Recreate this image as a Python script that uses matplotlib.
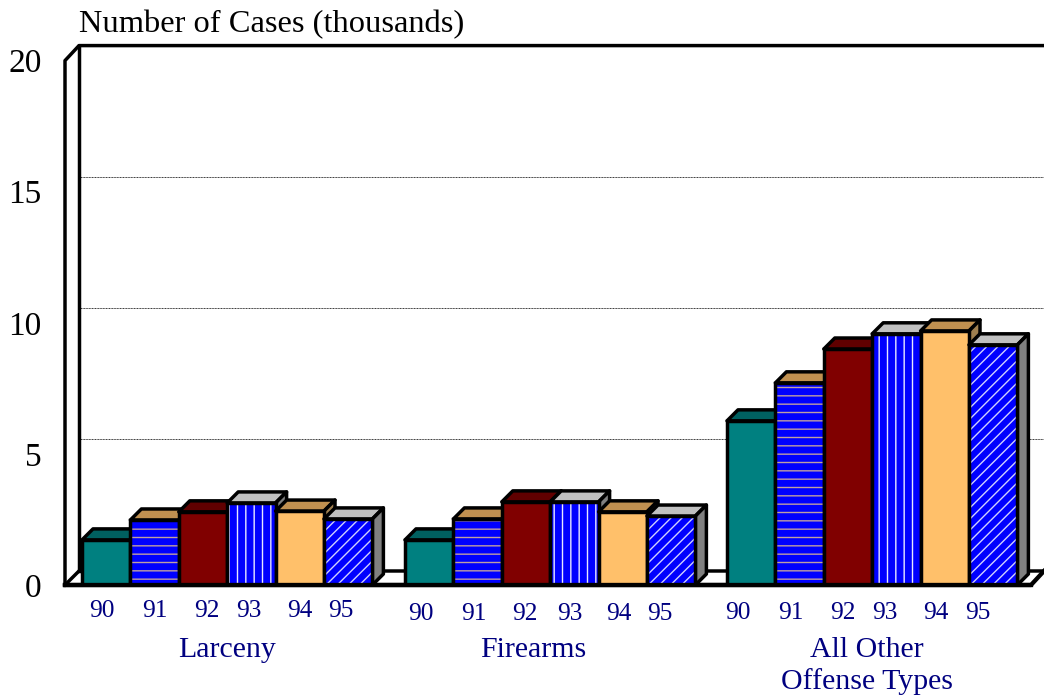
import matplotlib
matplotlib.use('Agg')
import matplotlib.pyplot as plt
from matplotlib.patches import Polygon

plt.rcParams['font.family'] = ['Liberation Serif', 'DejaVu Serif']
plt.rcParams['hatch.linewidth'] = 1.0

groups = ['Larceny', 'Firearms', 'All Other\nOffense Types']
years = ['90', '91', '92', '93', '94', '95']
larceny = [1.72, 2.48, 2.79, 3.13, 2.82, 2.52]
firearms = [1.72, 2.52, 3.17, 3.17, 2.79, 2.63]
other = [6.26, 7.71, 9.00, 9.58, 9.69, 9.16]
series = [larceny, firearms, other]

# colours per year: front, top, side, hatch, hatch colour
front_cols = ['#008080', '#0000ff', '#800000', '#0000ff', '#ffc06a', '#0000ff']
top_cols = ['#006060', '#c09050', '#600000', '#c0c0c0', '#c09050', '#c0c0c0']
side_cols = ['#006060', '#a08050', '#600000', '#808080', '#a08050', '#808080']
hatches = [None, '--', None, '||', None, '///']
hatch_cols = [None, '#c0a0a0', None, '#e8e8ff', None, '#d0d0ff']

# layout, in pixels of the 1044x698 picture
Y_UNIT = 26.2
group_left = [82, 405, 727]
bar_w = 48.4
dx = 11
dy = 11 / Y_UNIT
wall_dx = 14
floor_dy = 14 / Y_UNIT
wall_dy = 15 / Y_UNIT
year_x = [[102, 155, 207, 249, 300, 341],
          [421, 474, 525, 570, 619, 660],
          [738, 791, 843, 885, 936, 978]]
year_y = [-1.0, -1.12, -1.06]
group_x = [227, 533, 867]
group_y = [-1.98, -1.98, -1.98]

fig = plt.figure(figsize=(10.44, 6.98), dpi=100)
ax = fig.add_axes([65 / 1044, (698 - 585) / 698, (1044 - 65) / 1044, (585 - 60.6) / 698])
ax.set_xlim(65, 1044)
ax.set_ylim(0, 20)
ax.set_xticks([])
ax.set_yticks([0, 5, 10, 15, 20])
ax.tick_params(axis='y', length=0, pad=17, labelsize=24)
for s in ax.spines.values():
    s.set_visible(False)

# back wall, floor and gridlines
lw = 2.5
back_x = 65 + wall_dx
for v in [5, 10, 15]:
    ax.plot([back_x, 1044], [v + wall_dy, v + wall_dy], color='#303030', lw=0.7, ls=(0, (1, 0.6)), zorder=1)
ax.plot([65, 65, back_x, 1044], [0, 20, 20 + wall_dy, 20 + wall_dy], color='black', lw=lw, clip_on=False, zorder=2)
ax.plot([back_x, back_x], [floor_dy, 20 + wall_dy], color='black', lw=lw, clip_on=False, zorder=2)
ax.plot([65, back_x, 1044], [0, floor_dy, floor_dy], color='black', lw=lw, clip_on=False, zorder=2)
ax.plot([65, 1031, 1044], [0, 0, floor_dy], color='black', lw=lw + 0.6, clip_on=False, zorder=2)

z = 3
for left, vals in zip(group_left, series):
    for i, v in enumerate(vals):
        x0 = left + i * bar_w
        x1 = x0 + bar_w
        ax.add_patch(Polygon([(x0, v), (x0 + dx, v + dy), (x1 + dx, v + dy), (x1, v)],
                             facecolor=top_cols[i], edgecolor='black', lw=lw, joinstyle='round', zorder=z))
        ax.add_patch(Polygon([(x1, 0), (x1 + dx, dy), (x1 + dx, v + dy), (x1, v)],
                             facecolor=side_cols[i], edgecolor='black', lw=lw, joinstyle='round', zorder=z))
        if hatches[i]:
            ax.bar(x0, v, width=bar_w, align='edge', facecolor=front_cols[i],
                   edgecolor=hatch_cols[i], hatch=hatches[i], lw=0, zorder=z + 0.1)
            ax.bar(x0, v, width=bar_w, align='edge', fill=False, edgecolor='black', lw=lw, zorder=z + 0.2)
        else:
            ax.bar(x0, v, width=bar_w, align='edge', color=front_cols[i], edgecolor='black', lw=lw, zorder=z + 0.2)
        z += 1

ax.plot([65, 1031], [0, 0], color='black', lw=lw + 0.6, clip_on=False, zorder=z)

# year and group labels
for xs, yy in zip(year_x, year_y):
    for x, lab in zip(xs, years):
        ax.text(x, yy, lab, color='#000080', fontsize=18.3, ha='center', va='center')
for x, yy, lab in zip(group_x, group_y, groups):
    ax.text(x, yy, lab, color='#000080', fontsize=21.5, ha='center', va='top', linespacing=1.25,
            transform=ax.transData)

fig.text(79 / 1044, 1 - 25 / 698, 'Number of Cases (thousands)', fontsize=23.4, ha='left', va='center', color='black')

fig.savefig('out.png', dpi=100)
